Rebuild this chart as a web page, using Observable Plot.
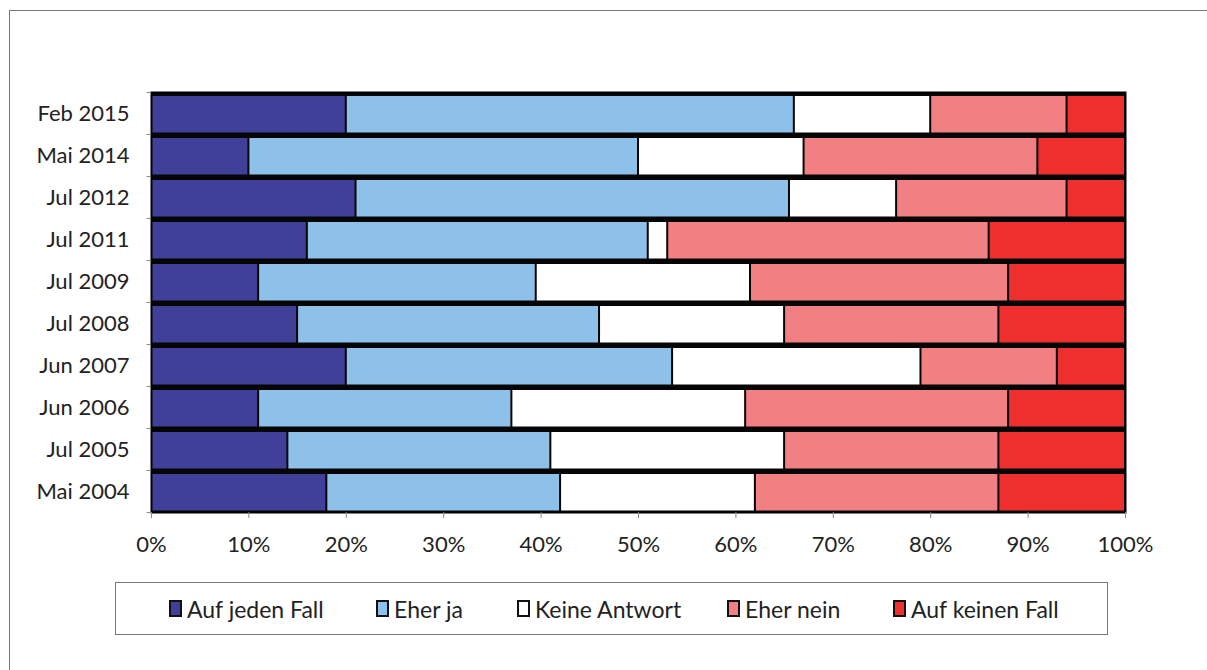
<!DOCTYPE html>
<html>
<head>
<meta charset="utf-8">
<script src="https://cdn.jsdelivr.net/npm/d3@7"></script>
<script src="https://cdn.jsdelivr.net/npm/@observablehq/plot@0.6"></script>
<style>
  html, body { margin: 0; padding: 0; background: #fff; overflow: hidden; }
  #wrap { position: relative; width: 1207px; height: 670px; overflow: hidden; font-family: Lato, "Noto Sans", sans-serif; }
  #lineTop { position: absolute; left: 9px; top: 10px; width: 1198px; height: 0; border-top: 1.5px solid #777; }
  #lineLeft { position: absolute; left: 9px; top: 10px; width: 0; height: 660px; border-left: 1.5px solid #777; }
  #chart { position: absolute; left: 0; top: 0; line-height: 0; }
  #legend { position: absolute; left: 115px; top: 582px; width: 993px; height: 53px; border: 1px solid #777; box-sizing: border-box; background: #fff; }
  .item { position: absolute; top: 0; height: 51px; display: flex; align-items: center; font-size: 23px; color: #222; white-space: nowrap; }
  .sw { width: 9px; height: 13px; border: 2px solid #111; margin-right: 5px; }
</style>
</head>
<body>
<div id="wrap">
  <div id="lineTop"></div>
  <div id="lineLeft"></div>
  <div id="chart"></div>
  <div id="legend"></div>
</div>
<script>
const dates = ["Feb 2015","Mai 2014","Jul 2012","Jul 2011","Jul 2009","Jul 2008","Jun 2007","Jun 2006","Jul 2005","Mai 2004"];
const categories = ["Auf jeden Fall","Eher ja","Keine Antwort","Eher nein","Auf keinen Fall"];
const colors = ["#40409a","#8ec1e9","#ffffff","#f28083","#ef2e2e"];
const aufJedenFall  = [20, 10, 21,   16, 11,   15, 20,   11, 14, 18];
const eherJa        = [46, 40, 44.5, 35, 28.5, 31, 33.5, 26, 27, 24];
const keineAntwort  = [14, 17, 11,    2, 22,   19, 25.5, 24, 24, 20];
const eherNein      = [14, 24, 17.5, 33, 26.5, 22, 14,   27, 22, 25];
const aufKeinenFall = [ 6,  9,  6,   14, 12,   13,  7,   12, 13, 13];
const xTicks = [0,10,20,30,40,50,60,70,80,90,100];

const series = [aufJedenFall, eherJa, keineAntwort, eherNein, aufKeinenFall];
const table = [];
dates.forEach((d, i) => {
  categories.forEach((c, j) => table.push({date: d, cat: c, value: series[j][i]}));
});

const W = 1207, H = 570, mT = 92, mB = 58, mL = 151, mR = 82;
const bw = (H - mT - mB) / dates.length;

const chart = Plot.plot({
  width: W,
  height: H,
  marginTop: mT,
  marginBottom: mB,
  marginLeft: mL,
  marginRight: mR,
  style: {fontFamily: "Lato, 'Noto Sans', sans-serif", fontSize: "22px", color: "#222", background: "transparent"},
  x: {domain: [0, 100], axis: null, label: null},
  y: {domain: dates, padding: 0, round: false, axis: null, label: null},
  color: {domain: categories, range: colors},
  marks: [
    Plot.barX(dates, {y: d => d, x1: 0, x2: 100, fill: "#050505"}),
    Plot.barX(table, Plot.stackX({
      x: "value", y: "date", fill: "cat",
      insetTop: 4, insetBottom: 1.5, insetLeft: 1, insetRight: 1
    })),
    Plot.frame({stroke: "#000", strokeWidth: 2}),
    Plot.ruleY(dates, {y: d => d, x1: -0.45, x2: 0, dy: -bw / 2, stroke: "#888"}),
    Plot.ruleY([dates[dates.length - 1]], {y: d => d, x1: -0.45, x2: 0, dy: bw / 2, stroke: "#888"}),
    Plot.axisY({tickSize: 0, tickPadding: 22, fontSize: 22, fill: "#222", label: null}),
    Plot.axisX({ticks: xTicks, tickFormat: d => d + "%", tickSize: 6, tickPadding: 18, stroke: "#888", fill: "#222", fontSize: 22, label: null})
  ]
});
document.getElementById("chart").appendChild(chart);

const legendX = [168, 375, 516, 726, 892];
const legend = document.getElementById("legend");
categories.forEach((c, j) => {
  const it = document.createElement("div");
  it.className = "item";
  it.style.left = (legendX[j] - 115) + "px";
  const sw = document.createElement("div");
  sw.className = "sw";
  sw.style.background = colors[j];
  const tx = document.createElement("span");
  tx.textContent = c;
  it.appendChild(sw);
  it.appendChild(tx);
  legend.appendChild(it);
});
</script>
</body>
</html>
